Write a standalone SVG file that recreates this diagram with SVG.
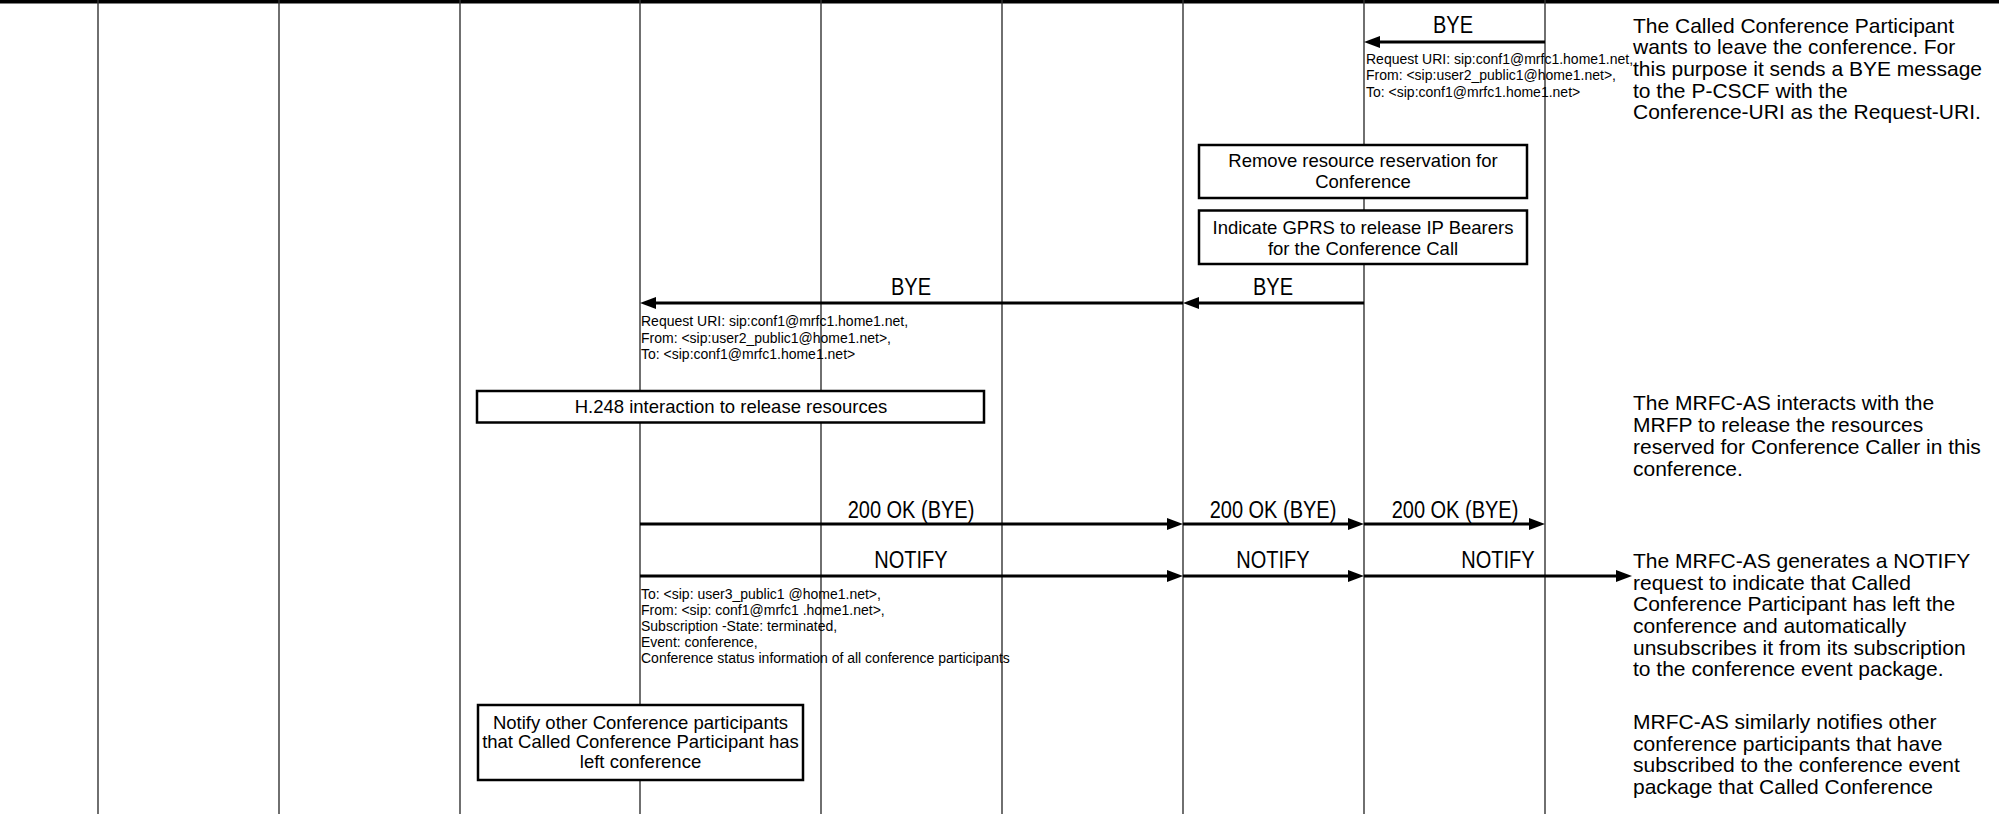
<svg xmlns="http://www.w3.org/2000/svg" width="1999" height="814" viewBox="0 0 1999 814">
<style>
text{font-family:"Liberation Sans",Arial,sans-serif;fill:#000}
.lbl{font-size:23px;text-anchor:middle}
.sm{font-size:14px}
.note{font-size:21px}
.bx{font-size:18.5px;text-anchor:middle}
.box{fill:#fff;stroke:#000;stroke-width:2.5}
.life{stroke:#333;stroke-width:1.4}
.msg{stroke:#000;stroke-width:3;fill:none}
</style>
<defs>
<marker id="ah" markerWidth="16" markerHeight="12" refX="6" refY="6" orient="auto" markerUnits="userSpaceOnUse">
<path d="M0,0 L16,6 L0,12 Z" fill="#000"/>
</marker>
</defs>
<rect x="0" y="0" width="1999" height="3.5" fill="#000"/>
<g id="lifelines">
<line class="life" x1="98" y1="0" x2="98" y2="814"/>
<line class="life" x1="279" y1="0" x2="279" y2="814"/>
<line class="life" x1="460" y1="0" x2="460" y2="814"/>
<line class="life" x1="640" y1="0" x2="640" y2="814"/>
<line class="life" x1="821" y1="0" x2="821" y2="814"/>
<line class="life" x1="1002" y1="0" x2="1002" y2="814"/>
<line class="life" x1="1183" y1="0" x2="1183" y2="814"/>
<line class="life" x1="1364" y1="0" x2="1364" y2="814"/>
<line class="life" x1="1545" y1="0" x2="1545" y2="814"/>
</g>
<g id="box-remove-reservation">
<rect class="box" x="1199" y="145" width="328" height="53"/>
<text class="bx" x="1363" y="166.5">Remove resource reservation for</text>
<text class="bx" x="1363" y="188">Conference</text>
</g>
<g id="box-indicate-gprs">
<rect class="box" x="1199" y="210.5" width="328" height="53.5"/>
<text class="bx" x="1363" y="233.5">Indicate GPRS to release IP Bearers</text>
<text class="bx" x="1363" y="254.5">for the Conference Call</text>
</g>
<g id="box-h248">
<rect class="box" x="477" y="391" width="507" height="31.5"/>
<text class="bx" x="731" y="413">H.248 interaction to release resources</text>
</g>
<g id="box-notify-others">
<rect class="box" x="478" y="705" width="325" height="75"/>
<text class="bx" x="640.5" y="728.5">Notify other Conference participants</text>
<text class="bx" x="640.5" y="747.5">that Called Conference Participant has</text>
<text class="bx" x="640.5" y="767.5">left conference</text>
</g>
<g id="connectors">
<path class="msg" d="M1545,42 L1374,42" marker-end="url(#ah)"/>
<text class="lbl" transform="translate(1453,33) scale(0.87,1)">BYE</text>
<path class="msg" d="M1364,303 L1193,303" marker-end="url(#ah)"/>
<text class="lbl" transform="translate(1273,295) scale(0.87,1)">BYE</text>
<path class="msg" d="M1183,303 L650,303" marker-end="url(#ah)"/>
<text class="lbl" transform="translate(911,295) scale(0.87,1)">BYE</text>
<path class="msg" d="M640,524 L1173,524" marker-end="url(#ah)"/>
<text class="lbl" transform="translate(911,517.5) scale(0.87,1)">200 OK (BYE)</text>
<path class="msg" d="M1183,524 L1354,524" marker-end="url(#ah)"/>
<text class="lbl" transform="translate(1273,517.5) scale(0.87,1)">200 OK (BYE)</text>
<path class="msg" d="M1364,524 L1535,524" marker-end="url(#ah)"/>
<text class="lbl" transform="translate(1455,517.5) scale(0.87,1)">200 OK (BYE)</text>
<path class="msg" d="M640,576 L1173,576" marker-end="url(#ah)"/>
<text class="lbl" transform="translate(911,568) scale(0.87,1)">NOTIFY</text>
<path class="msg" d="M1183,576 L1354,576" marker-end="url(#ah)"/>
<text class="lbl" transform="translate(1273,568) scale(0.87,1)">NOTIFY</text>
<path class="msg" d="M1364,576 L1622,576" marker-end="url(#ah)"/>
<text class="lbl" transform="translate(1498,568) scale(0.87,1)">NOTIFY</text>
</g>
<g id="params-bye1">
<text class="sm" x="1366" y="63.5">Request URI: sip:conf1@mrfc1.home1.net,</text>
<text class="sm" x="1366" y="80">From: &lt;sip:user2_public1@home1.net&gt;,</text>
<text class="sm" x="1366" y="96.5">To: &lt;sip:conf1@mrfc1.home1.net&gt;</text>
</g>
<g id="params-bye2">
<text class="sm" x="641" y="326">Request URI: sip:conf1@mrfc1.home1.net,</text>
<text class="sm" x="641" y="342.5">From: &lt;sip:user2_public1@home1.net&gt;,</text>
<text class="sm" x="641" y="359">To: &lt;sip:conf1@mrfc1.home1.net&gt;</text>
</g>
<g id="params-notify">
<text class="sm" x="641" y="598.5">To: &lt;sip: user3_public1 @home1.net&gt;,</text>
<text class="sm" x="641" y="614.6">From: &lt;sip: conf1@mrfc1 .home1.net&gt;,</text>
<text class="sm" x="641" y="630.7">Subscription -State: terminated,</text>
<text class="sm" x="641" y="646.8">Event: conference,</text>
<text class="sm" x="641" y="663">Conference status information of all conference participants</text>
</g>
<g id="note-1">
<text class="note" x="1633" y="32.5">The Called Conference Participant</text>
<text class="note" x="1633" y="54">wants to leave the conference. For</text>
<text class="note" x="1633" y="76">this purpose it sends a BYE message</text>
<text class="note" x="1633" y="97.5">to the P-CSCF with the</text>
<text class="note" x="1633" y="119">Conference-URI as the Request-URI.</text>
</g>
<g id="note-2">
<text class="note" x="1633" y="410">The MRFC-AS interacts with the</text>
<text class="note" x="1633" y="432">MRFP to release the resources</text>
<text class="note" x="1633" y="454">reserved for Conference Caller in this</text>
<text class="note" x="1633" y="476">conference.</text>
</g>
<g id="note-3">
<text class="note" x="1633" y="568">The MRFC-AS generates a NOTIFY</text>
<text class="note" x="1633" y="590">request to indicate that Called</text>
<text class="note" x="1633" y="611">Conference Participant has left the</text>
<text class="note" x="1633" y="633">conference and automatically</text>
<text class="note" x="1633" y="655">unsubscribes it from its subscription</text>
<text class="note" x="1633" y="676">to the conference event package.</text>
</g>
<g id="note-4">
<text class="note" x="1633" y="729">MRFC-AS similarly notifies other</text>
<text class="note" x="1633" y="750.5">conference participants that have</text>
<text class="note" x="1633" y="772">subscribed to the conference event</text>
<text class="note" x="1633" y="793.5">package that Called Conference</text>
</g>
</svg>
